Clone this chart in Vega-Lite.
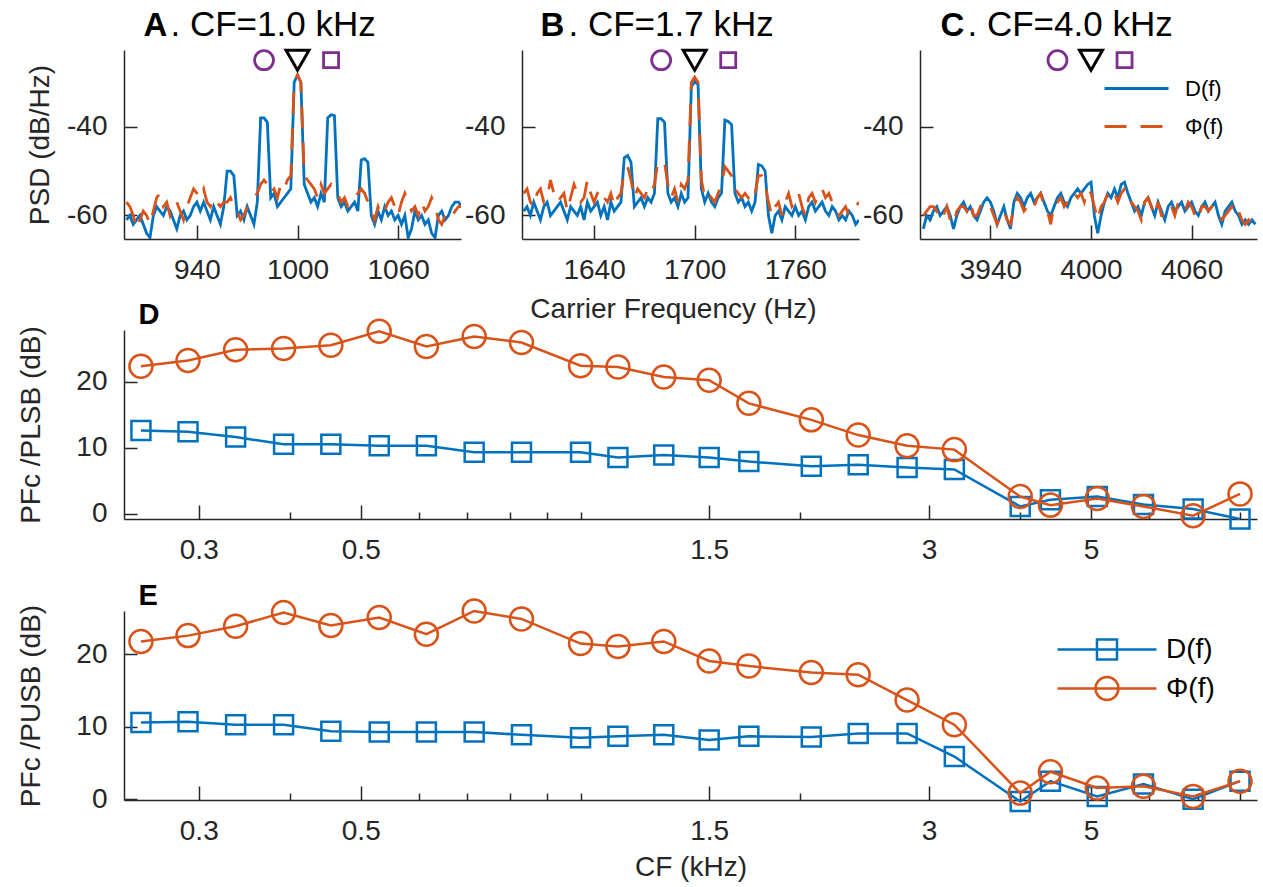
{
"$schema":"https://vega.github.io/schema/vega-lite/v6.json",
"padding":{"left":17,"top":7,"right":5,"bottom":5},
"background":"white",
"config":{"font":"Liberation Sans","view":{"stroke":null},
"axis":{"grid":false,"domainColor":"#262626","domainWidth":1.5,"tickColor":"#262626","tickWidth":1.5,"labelColor":"#262626","labelFontSize":28,"titleFontSize":28,"titleFontWeight":"normal","titleColor":"#262626","labelOverlap":false,"labelFlush":false,"labelFont":"Liberation Sans","titleFont":"Liberation Sans"},
"legend":{"padding":0,"labelFont":"Liberation Sans","labelColor":"#000000"}},
"datasets":{
"A":[{"f":898,"D":-61,"P":-57},{"f":900,"D":-60,"P":-58},{"f":902,"D":-62,"P":-60},{"f":904,"D":-61,"P":-63},{"f":906,"D":-60,"P":-61},{"f":908,"D":-62,"P":-59},{"f":910,"D":-64,"P":-60},{"f":912,"D":-65,"P":-62},{"f":914,"D":-60,"P":-59},{"f":916,"D":-58,"P":-56},{"f":918,"D":-59,"P":-55},{"f":920,"D":-60,"P":-58},{"f":922,"D":-58,"P":-57},{"f":924,"D":-59,"P":-60},{"f":926,"D":-61,"P":-58},{"f":928,"D":-63,"P":-57},{"f":930,"D":-60,"P":-59},{"f":932,"D":-59,"P":-61},{"f":934,"D":-61,"P":-58},{"f":936,"D":-60,"P":-56},{"f":938,"D":-58,"P":-54},{"f":940,"D":-57,"P":-55},{"f":942,"D":-59,"P":-56},{"f":944,"D":-57,"P":-54},{"f":946,"D":-59,"P":-57},{"f":948,"D":-61,"P":-58},{"f":950,"D":-58,"P":-56},{"f":952,"D":-60,"P":-57},{"f":954,"D":-62,"P":-58},{"f":956,"D":-58,"P":-57},{"f":958,"D":-50,"P":-57},{"f":960,"D":-50,"P":-56},{"f":962,"D":-51,"P":-58},{"f":964,"D":-60,"P":-59},{"f":966,"D":-59,"P":-61},{"f":968,"D":-61,"P":-60},{"f":970,"D":-58,"P":-58},{"f":972,"D":-60,"P":-57},{"f":974,"D":-62,"P":-56},{"f":976,"D":-57,"P":-55},{"f":978,"D":-38,"P":-53},{"f":980,"D":-38,"P":-52},{"f":982,"D":-39,"P":-53},{"f":984,"D":-56,"P":-55},{"f":986,"D":-55,"P":-54},{"f":988,"D":-58,"P":-56},{"f":990,"D":-57,"P":-53},{"f":992,"D":-56,"P":-54},{"f":994,"D":-55,"P":-52},{"f":996,"D":-54,"P":-51},{"f":998,"D":-30,"P":-30},{"f":1000,"D":-28.3,"P":-28.3},{"f":1002,"D":-30,"P":-30},{"f":1004,"D":-53,"P":-51},{"f":1006,"D":-55,"P":-52},{"f":1008,"D":-57,"P":-53},{"f":1010,"D":-56,"P":-54},{"f":1012,"D":-58,"P":-56},{"f":1014,"D":-55,"P":-53},{"f":1016,"D":-57,"P":-55},{"f":1018,"D":-38,"P":-54},{"f":1020,"D":-37.3,"P":-53},{"f":1022,"D":-37.5,"P":-54},{"f":1024,"D":-56,"P":-55},{"f":1026,"D":-58,"P":-57},{"f":1028,"D":-57,"P":-56},{"f":1030,"D":-59,"P":-58},{"f":1032,"D":-58,"P":-57},{"f":1034,"D":-57,"P":-56},{"f":1036,"D":-59,"P":-55},{"f":1038,"D":-47.5,"P":-54},{"f":1040,"D":-47.2,"P":-55},{"f":1042,"D":-48,"P":-57},{"f":1044,"D":-60,"P":-59},{"f":1046,"D":-62,"P":-61},{"f":1048,"D":-59,"P":-58},{"f":1050,"D":-61,"P":-60},{"f":1052,"D":-58,"P":-59},{"f":1054,"D":-60,"P":-57},{"f":1056,"D":-59,"P":-56},{"f":1058,"D":-61,"P":-58},{"f":1060,"D":-60,"P":-60},{"f":1062,"D":-62,"P":-57},{"f":1064,"D":-60,"P":-55},{"f":1066,"D":-65,"P":-57},{"f":1068,"D":-63,"P":-59},{"f":1070,"D":-59,"P":-58},{"f":1072,"D":-61,"P":-60},{"f":1074,"D":-60,"P":-57},{"f":1076,"D":-62,"P":-59},{"f":1078,"D":-61,"P":-58},{"f":1080,"D":-64,"P":-56},{"f":1082,"D":-65,"P":-58},{"f":1084,"D":-60,"P":-61},{"f":1086,"D":-59,"P":-62},{"f":1088,"D":-61,"P":-60},{"f":1090,"D":-60,"P":-59},{"f":1092,"D":-58,"P":-60},{"f":1094,"D":-57,"P":-59},{"f":1096,"D":-57,"P":-58},{"f":1098,"D":-58,"P":-58}],
"B":[{"f":1598,"D":-59,"P":-55},{"f":1600,"D":-58,"P":-54},{"f":1602,"D":-60,"P":-57},{"f":1604,"D":-57,"P":-58},{"f":1606,"D":-59,"P":-55},{"f":1608,"D":-61,"P":-54},{"f":1610,"D":-58,"P":-57},{"f":1612,"D":-57,"P":-56},{"f":1614,"D":-60,"P":-52},{"f":1616,"D":-59,"P":-55},{"f":1618,"D":-58,"P":-57},{"f":1620,"D":-57,"P":-56},{"f":1622,"D":-59,"P":-55},{"f":1624,"D":-61,"P":-59},{"f":1626,"D":-58,"P":-56},{"f":1628,"D":-59,"P":-53},{"f":1630,"D":-60,"P":-55},{"f":1632,"D":-58,"P":-57},{"f":1634,"D":-61,"P":-56},{"f":1636,"D":-57,"P":-52},{"f":1638,"D":-59,"P":-55},{"f":1640,"D":-58,"P":-57},{"f":1642,"D":-57,"P":-55},{"f":1644,"D":-60,"P":-54},{"f":1646,"D":-58,"P":-56},{"f":1648,"D":-61,"P":-57},{"f":1650,"D":-57,"P":-55},{"f":1652,"D":-59,"P":-58},{"f":1654,"D":-58,"P":-56},{"f":1656,"D":-57,"P":-55},{"f":1658,"D":-47,"P":-50},{"f":1660,"D":-46.5,"P":-49},{"f":1662,"D":-48,"P":-52},{"f":1664,"D":-58,"P":-56},{"f":1666,"D":-57,"P":-54},{"f":1668,"D":-56,"P":-55},{"f":1670,"D":-58,"P":-56},{"f":1672,"D":-56,"P":-54},{"f":1674,"D":-57,"P":-55},{"f":1676,"D":-55,"P":-53},{"f":1678,"D":-38.2,"P":-48},{"f":1680,"D":-38.2,"P":-48},{"f":1682,"D":-39,"P":-48},{"f":1684,"D":-55,"P":-53},{"f":1686,"D":-57,"P":-56},{"f":1688,"D":-56,"P":-54},{"f":1690,"D":-58,"P":-57},{"f":1692,"D":-55,"P":-53},{"f":1694,"D":-57,"P":-54},{"f":1696,"D":-56,"P":-52},{"f":1698,"D":-31,"P":-30},{"f":1700,"D":-29.8,"P":-28.8},{"f":1702,"D":-30.5,"P":-30},{"f":1704,"D":-54,"P":-52},{"f":1706,"D":-57,"P":-56},{"f":1708,"D":-55,"P":-55},{"f":1710,"D":-57,"P":-56},{"f":1712,"D":-58,"P":-57},{"f":1714,"D":-56,"P":-55},{"f":1716,"D":-55,"P":-53},{"f":1718,"D":-38.5,"P":-49},{"f":1720,"D":-38.8,"P":-50},{"f":1722,"D":-39.5,"P":-51},{"f":1724,"D":-55,"P":-54},{"f":1726,"D":-57,"P":-55},{"f":1728,"D":-56,"P":-56},{"f":1730,"D":-58,"P":-55},{"f":1732,"D":-57,"P":-56},{"f":1734,"D":-59,"P":-54},{"f":1736,"D":-57,"P":-55},{"f":1738,"D":-48.5,"P":-51},{"f":1740,"D":-48.8,"P":-51},{"f":1742,"D":-50,"P":-53},{"f":1744,"D":-60,"P":-57},{"f":1746,"D":-64,"P":-60},{"f":1748,"D":-60,"P":-58},{"f":1750,"D":-59,"P":-57},{"f":1752,"D":-61,"P":-60},{"f":1754,"D":-58,"P":-57},{"f":1756,"D":-59,"P":-55},{"f":1758,"D":-60,"P":-58},{"f":1760,"D":-58,"P":-57},{"f":1762,"D":-60,"P":-55},{"f":1764,"D":-59,"P":-58},{"f":1766,"D":-61,"P":-60},{"f":1768,"D":-58,"P":-56},{"f":1770,"D":-57,"P":-55},{"f":1772,"D":-59,"P":-57},{"f":1774,"D":-58,"P":-55},{"f":1776,"D":-57,"P":-54},{"f":1778,"D":-59,"P":-56},{"f":1780,"D":-60,"P":-55},{"f":1782,"D":-58,"P":-57},{"f":1784,"D":-59,"P":-58},{"f":1786,"D":-61,"P":-60},{"f":1788,"D":-60,"P":-59},{"f":1790,"D":-61,"P":-58},{"f":1792,"D":-59,"P":-60},{"f":1794,"D":-60,"P":-59},{"f":1796,"D":-62,"P":-58},{"f":1798,"D":-61,"P":-57}],
"C":[{"f":3900,"D":-63,"P":-60},{"f":3902,"D":-60,"P":-59},{"f":3904,"D":-61,"P":-58},{"f":3906,"D":-59,"P":-58},{"f":3908,"D":-58,"P":-59},{"f":3910,"D":-60,"P":-61},{"f":3912,"D":-59,"P":-60},{"f":3914,"D":-58,"P":-58},{"f":3916,"D":-60,"P":-61},{"f":3918,"D":-63,"P":-62},{"f":3920,"D":-60,"P":-59},{"f":3922,"D":-58,"P":-58},{"f":3924,"D":-57,"P":-58},{"f":3926,"D":-59,"P":-59},{"f":3928,"D":-58,"P":-57},{"f":3930,"D":-60,"P":-60},{"f":3932,"D":-61,"P":-60},{"f":3934,"D":-59,"P":-58},{"f":3936,"D":-57,"P":-57},{"f":3938,"D":-56,"P":-57},{"f":3940,"D":-57,"P":-58},{"f":3942,"D":-59,"P":-60},{"f":3944,"D":-62,"P":-62},{"f":3946,"D":-60,"P":-60},{"f":3948,"D":-58,"P":-59},{"f":3950,"D":-61,"P":-61},{"f":3952,"D":-63,"P":-62},{"f":3954,"D":-57,"P":-58},{"f":3956,"D":-55,"P":-56},{"f":3958,"D":-56,"P":-57},{"f":3960,"D":-58,"P":-59},{"f":3962,"D":-56,"P":-58},{"f":3964,"D":-55,"P":-57},{"f":3966,"D":-57,"P":-58},{"f":3968,"D":-56,"P":-56},{"f":3970,"D":-55,"P":-55},{"f":3972,"D":-57,"P":-58},{"f":3974,"D":-59,"P":-59},{"f":3976,"D":-60,"P":-62},{"f":3978,"D":-58,"P":-57},{"f":3980,"D":-56,"P":-57},{"f":3982,"D":-55,"P":-56},{"f":3984,"D":-57,"P":-58},{"f":3986,"D":-58,"P":-57},{"f":3988,"D":-56,"P":-55},{"f":3990,"D":-55,"P":-55},{"f":3992,"D":-54,"P":-56},{"f":3994,"D":-55,"P":-55},{"f":3996,"D":-54,"P":-57},{"f":3998,"D":-53,"P":-54},{"f":4000,"D":-52.5,"P":-55},{"f":4002,"D":-60,"P":-58},{"f":4004,"D":-64,"P":-61},{"f":4006,"D":-60,"P":-58},{"f":4008,"D":-57,"P":-57},{"f":4010,"D":-55,"P":-55},{"f":4012,"D":-56,"P":-56},{"f":4014,"D":-54,"P":-55},{"f":4016,"D":-56,"P":-57},{"f":4018,"D":-53,"P":-55},{"f":4020,"D":-52.5,"P":-54},{"f":4022,"D":-55,"P":-56},{"f":4024,"D":-57,"P":-57},{"f":4026,"D":-59,"P":-58},{"f":4028,"D":-58,"P":-59},{"f":4030,"D":-60,"P":-61},{"f":4032,"D":-57,"P":-57},{"f":4034,"D":-56,"P":-56},{"f":4036,"D":-58,"P":-58},{"f":4038,"D":-60,"P":-60},{"f":4040,"D":-57,"P":-57},{"f":4042,"D":-59,"P":-60},{"f":4044,"D":-61,"P":-60},{"f":4046,"D":-58,"P":-58},{"f":4048,"D":-57,"P":-58},{"f":4050,"D":-59,"P":-60},{"f":4052,"D":-58,"P":-57},{"f":4054,"D":-57,"P":-58},{"f":4056,"D":-59,"P":-59},{"f":4058,"D":-58,"P":-57},{"f":4060,"D":-57,"P":-58},{"f":4062,"D":-59,"P":-60},{"f":4064,"D":-60,"P":-61},{"f":4066,"D":-58,"P":-58},{"f":4068,"D":-57,"P":-58},{"f":4070,"D":-59,"P":-59},{"f":4072,"D":-58,"P":-58},{"f":4074,"D":-57,"P":-58},{"f":4076,"D":-60,"P":-60},{"f":4078,"D":-62,"P":-61},{"f":4080,"D":-59,"P":-60},{"f":4082,"D":-58,"P":-59},{"f":4084,"D":-57,"P":-58},{"f":4086,"D":-59,"P":-60},{"f":4088,"D":-60,"P":-59},{"f":4090,"D":-62,"P":-61},{"f":4092,"D":-61,"P":-62},{"f":4094,"D":-62,"P":-61},{"f":4096,"D":-61,"P":-62},{"f":4098,"D":-62,"P":-61}],
"LSB":[{"f":0.25,"D":12.6,"P":22.3},{"f":0.29,"D":12.4,"P":23.2},{"f":0.337,"D":11.6,"P":24.8},{"f":0.392,"D":10.5,"P":25.0},{"f":0.455,"D":10.5,"P":25.5},{"f":0.53,"D":10.3,"P":27.6},{"f":0.615,"D":10.3,"P":25.3},{"f":0.715,"D":9.3,"P":26.8},{"f":0.83,"D":9.3,"P":25.9},{"f":1.0,"D":9.3,"P":22.4},{"f":1.125,"D":8.5,"P":22.2},{"f":1.3,"D":8.9,"P":20.7},{"f":1.5,"D":8.5,"P":20.2},{"f":1.7,"D":7.9,"P":16.7},{"f":2.07,"D":7.2,"P":14.2},{"f":2.4,"D":7.4,"P":11.9},{"f":2.8,"D":7.0,"P":10.3},{"f":3.25,"D":6.7,"P":9.7},{"f":4.0,"D":1.1,"P":2.6},{"f":4.4,"D":2.1,"P":1.3},{"f":5.1,"D":2.6,"P":2.3},{"f":5.9,"D":1.4,"P":1.1},{"f":6.9,"D":0.7,"P":-0.3},{"f":8.0,"D":-0.8,"P":3.0}],
"USB":[{"f":0.25,"D":10.6,"P":21.8},{"f":0.29,"D":10.7,"P":22.6},{"f":0.337,"D":10.3,"P":23.9},{"f":0.392,"D":10.3,"P":25.8},{"f":0.455,"D":9.4,"P":24.0},{"f":0.53,"D":9.3,"P":25.1},{"f":0.615,"D":9.3,"P":22.8},{"f":0.715,"D":9.3,"P":26.0},{"f":0.83,"D":8.9,"P":24.9},{"f":1.0,"D":8.5,"P":21.5},{"f":1.125,"D":8.7,"P":21.1},{"f":1.3,"D":8.9,"P":21.8},{"f":1.5,"D":8.2,"P":19.1},{"f":1.7,"D":8.7,"P":18.4},{"f":2.07,"D":8.6,"P":17.5},{"f":2.4,"D":9.1,"P":17.2},{"f":2.8,"D":9.1,"P":13.7},{"f":3.25,"D":5.9,"P":10.3},{"f":4.0,"D":-0.3,"P":0.85},{"f":4.4,"D":2.5,"P":3.8},{"f":5.1,"D":0.4,"P":1.55},{"f":5.9,"D":2.1,"P":1.8},{"f":6.9,"D":0.0,"P":0.4},{"f":8.0,"D":2.5,"P":2.5}]
},
"spacing":280,
"bounds":"flush",
"resolve":{"scale":{"color":"independent","shape":"independent","strokeDash":"independent"},"legend":{"color":"independent","shape":"independent","strokeDash":"independent"}},
"vconcat":[
{"hconcat":[
{"width":337,"height":189,"data":{"name":"A"},
"resolve":{"axis":{"x":"independent"}},
"layer":[
{"mark":{"type":"line","color":"#0072BD","strokeWidth":2.8,"clip":true},
"encoding":{"x":{"field":"f","type":"quantitative","scale":{"domain":[896.5,1097.5],"nice":false,"zero":false},"axis":{"orient":"bottom","values":[940,1000,1060],"format":"d","tickSize":-14,"labelPadding":31,"title":null}},
"y":{"field":"D","type":"quantitative","scale":{"domain":[-65.3,-22.7],"nice":false,"zero":false},"axis":{"values":[-60,-40],"labelExpr":"datum.value + ''","tickSize":-13,"labelPadding":30,"title":"PSD (dB/Hz)","titlePadding":12}}}},
{"mark":{"type":"line","color":"#D95319","strokeWidth":2.8,"strokeDash":[22,14],"clip":true},
"encoding":{"x":{"field":"f","type":"quantitative","axis":{"orient":"top","domain":false,"ticks":false,"labels":false,"title":"A","titleX":19,"titleY":-15,"titleAlign":"left","titleBaseline":"alphabetic","titleAngle":0,"titleFontSize":33,"titleFontWeight":"bold","titleColor":"#000000"}},"y":{"field":"P","type":"quantitative"}}},
{"data":{"values":[{"f":980}]},"mark":{"type":"point","shape":"circle","color":"#7E2F8E","filled":false,"size":361,"strokeWidth":2.8,"opacity":1},
"encoding":{"x":{"field":"f","type":"quantitative","axis":{"orient":"top","domain":false,"ticks":false,"labels":false,"title":". CF=1.0 kHz","titleX":46,"titleY":-15,"titleAlign":"left","titleBaseline":"alphabetic","titleAngle":0,"titleFontSize":35,"titleColor":"#000000"}},"y":{"datum":-25}}},
{"data":{"values":[{"f":1000}]},"mark":{"type":"point","shape":"triangle-down","color":"#000000","filled":false,"size":529,"strokeWidth":3,"opacity":1},
"encoding":{"x":{"field":"f","type":"quantitative","axis":null},"y":{"datum":-25}}},
{"data":{"values":[{"f":1020}]},"mark":{"type":"point","shape":"square","color":"#7E2F8E","filled":false,"size":225,"strokeWidth":2.8,"opacity":1},
"encoding":{"x":{"field":"f","type":"quantitative","axis":null},"y":{"datum":-25}}}
]},
{"width":337,"height":189,"data":{"name":"B"},
"resolve":{"axis":{"x":"independent"}},
"layer":[
{"mark":{"type":"line","color":"#0072BD","strokeWidth":2.8,"clip":true},
"encoding":{"x":{"field":"f","type":"quantitative","scale":{"domain":[1597,1798],"nice":false,"zero":false},"axis":{"orient":"bottom","values":[1640,1700,1760],"format":"d","tickSize":-14,"labelPadding":31,"title":"Carrier Frequency (Hz)","titlePadding":11,"titleX":151}},
"y":{"field":"D","type":"quantitative","scale":{"domain":[-65.3,-22.7],"nice":false,"zero":false},"axis":{"values":[-60,-40],"labelExpr":"datum.value + ''","tickSize":-13,"labelPadding":30,"title":null}}}},
{"mark":{"type":"line","color":"#D95319","strokeWidth":2.8,"strokeDash":[22,14],"clip":true},
"encoding":{"x":{"field":"f","type":"quantitative","axis":{"orient":"top","domain":false,"ticks":false,"labels":false,"title":"B","titleX":18,"titleY":-15,"titleAlign":"left","titleBaseline":"alphabetic","titleAngle":0,"titleFontSize":33,"titleFontWeight":"bold","titleColor":"#000000"}},"y":{"field":"P","type":"quantitative"}}},
{"data":{"values":[{"f":1680}]},"mark":{"type":"point","shape":"circle","color":"#7E2F8E","filled":false,"size":361,"strokeWidth":2.8,"opacity":1},
"encoding":{"x":{"field":"f","type":"quantitative","axis":{"orient":"top","domain":false,"ticks":false,"labels":false,"title":". CF=1.7 kHz","titleX":46,"titleY":-15,"titleAlign":"left","titleBaseline":"alphabetic","titleAngle":0,"titleFontSize":35,"titleColor":"#000000"}},"y":{"datum":-25}}},
{"data":{"values":[{"f":1700}]},"mark":{"type":"point","shape":"triangle-down","color":"#000000","filled":false,"size":529,"strokeWidth":3,"opacity":1},
"encoding":{"x":{"field":"f","type":"quantitative","axis":null},"y":{"datum":-25}}},
{"data":{"values":[{"f":1720}]},"mark":{"type":"point","shape":"square","color":"#7E2F8E","filled":false,"size":225,"strokeWidth":2.8,"opacity":1},
"encoding":{"x":{"field":"f","type":"quantitative","axis":null},"y":{"datum":-25}}}
]},
{"width":337,"height":189,"data":{"name":"C"},
"resolve":{"axis":{"x":"independent"}},
"layer":[
{"mark":{"type":"line","color":"#0072BD","strokeWidth":2.8,"clip":true},
"encoding":{"x":{"field":"f","type":"quantitative","scale":{"domain":[3898,4099],"nice":false,"zero":false},"axis":{"orient":"bottom","values":[3940,4000,4060],"format":"d","tickSize":-14,"labelPadding":31,"title":null}},
"y":{"field":"D","type":"quantitative","scale":{"domain":[-65.3,-22.7],"nice":false,"zero":false},"axis":{"values":[-60,-40],"labelExpr":"datum.value + ''","tickSize":-13,"labelPadding":30,"title":null}}}},
{"mark":{"type":"line","color":"#D95319","strokeWidth":2.8,"strokeDash":[22,14],"clip":true},
"encoding":{"x":{"field":"f","type":"quantitative","axis":{"orient":"top","domain":false,"ticks":false,"labels":false,"title":"C","titleX":20,"titleY":-15,"titleAlign":"left","titleBaseline":"alphabetic","titleAngle":0,"titleFontSize":33,"titleFontWeight":"bold","titleColor":"#000000"}},"y":{"field":"P","type":"quantitative"}}},
{"data":{"values":[{"f":3980}]},"mark":{"type":"point","shape":"circle","color":"#7E2F8E","filled":false,"size":361,"strokeWidth":2.8,"opacity":1},
"encoding":{"x":{"field":"f","type":"quantitative","axis":{"orient":"top","domain":false,"ticks":false,"labels":false,"title":". CF=4.0 kHz","titleX":47,"titleY":-15,"titleAlign":"left","titleBaseline":"alphabetic","titleAngle":0,"titleFontSize":35,"titleColor":"#000000"}},"y":{"datum":-25}}},
{"data":{"values":[{"f":4000}]},"mark":{"type":"point","shape":"triangle-down","color":"#000000","filled":false,"size":529,"strokeWidth":3,"opacity":1},
"encoding":{"x":{"field":"f","type":"quantitative","axis":null},"y":{"datum":-25}}},
{"data":{"values":[{"f":4020}]},"mark":{"type":"point","shape":"square","color":"#7E2F8E","filled":false,"size":225,"strokeWidth":2.8,"opacity":1},
"encoding":{"x":{"field":"f","type":"quantitative","axis":null},"y":{"datum":-25}}},
{"transform":[{"filter":"false"}],
"mark":{"type":"point","filled":false,"strokeWidth":2.8,"opacity":1},
"encoding":{"x":{"field":"f","type":"quantitative","axis":null},"y":{"field":"D","type":"quantitative"},
"color":{"field":"s","type":"nominal","scale":{"domain":["D","P"],"range":["#0072BD","#D95319"]},"legend":{"orient":"none","legendX":183,"legendY":26,"title":null,"labelExpr":"datum.label == 'D' ? 'D(f)' : 'Φ(f)'","labelFontSize":22,"symbolType":"M-1,0H4.82","symbolSize":484,"symbolStrokeWidth":2.8,"labelOffset":57,"rowPadding":14}},
"strokeDash":{"field":"s","type":"nominal","scale":{"domain":["D","P"],"range":[[1,0],[22,14]]},"legend":{"orient":"none","legendX":183,"legendY":26,"title":null,"labelExpr":"datum.label == 'D' ? 'D(f)' : 'Φ(f)'","labelFontSize":22,"symbolType":"M-1,0H4.82","symbolSize":484,"symbolStrokeWidth":2.8,"labelOffset":57,"rowPadding":14}}}}
]}
],"spacing":61,"bounds":"flush",
"resolve":{"scale":{"color":"independent","shape":"independent","strokeDash":"independent"},"legend":{"color":"independent","shape":"independent","strokeDash":"independent"}}},
{"vconcat":[
{"width":1133,"height":189,"data":{"name":"LSB"},
"resolve":{"axis":{"x":"independent"}},
"layer":[
{"mark":{"type":"line","color":"#0072BD","strokeWidth":2.5},
"encoding":{"x":{"field":"f","type":"quantitative","scale":{"type":"log","domain":[0.237,8.44],"nice":false},"axis":{"orient":"bottom","values":[0.3,0.5,1.5,3,5],"labelExpr":"datum.value + ''","tickSize":-14,"labelPadding":31,"title":null}},
"y":{"field":"D","type":"quantitative","scale":{"domain":[-0.8,27.8],"nice":false,"zero":false},"axis":{"values":[0,10,20],"tickSize":-13,"labelPadding":30,"title":"PFc /PLSB (dB)","titlePadding":30}}}},
{"mark":{"type":"point","shape":"square","color":"#0072BD","filled":false,"size":361,"strokeWidth":2.5,"opacity":1},
"encoding":{"x":{"field":"f","type":"quantitative","axis":{"orient":"bottom","values":[0.4,0.6,0.7,0.8,0.9,1,2,4,6,7,8],"labels":false,"domain":false,"tickSize":-7,"title":null}},"y":{"field":"D","type":"quantitative"}}},
{"mark":{"type":"line","color":"#D95319","strokeWidth":2.5},
"encoding":{"x":{"field":"f","type":"quantitative","axis":{"orient":"top","domain":false,"ticks":false,"labels":false,"title":"D","titleX":14,"titleY":-7,"titleAlign":"left","titleBaseline":"alphabetic","titleAngle":0,"titleFontSize":29,"titleFontWeight":"bold","titleColor":"#000000"}},"y":{"field":"P","type":"quantitative"}}},
{"mark":{"type":"point","shape":"circle","color":"#D95319","filled":false,"size":529,"strokeWidth":2.5,"opacity":1},
"encoding":{"x":{"field":"f","type":"quantitative","axis":null},"y":{"field":"P","type":"quantitative"}}}
]},
{"width":1133,"height":189,"data":{"name":"USB"},
"resolve":{"axis":{"x":"independent"}},
"layer":[
{"mark":{"type":"line","color":"#0072BD","strokeWidth":2.5},
"encoding":{"x":{"field":"f","type":"quantitative","scale":{"type":"log","domain":[0.237,8.44],"nice":false},"axis":{"orient":"bottom","values":[0.3,0.5,1.5,3,5],"labelExpr":"datum.value + ''","tickSize":-14,"labelPadding":31,"title":"CF (kHz)","titlePadding":8}},
"y":{"field":"D","type":"quantitative","scale":{"domain":[-0.1,26.0],"nice":false,"zero":false},"axis":{"values":[0,10,20],"tickSize":-13,"labelPadding":30,"title":"PFc /PUSB (dB)","titlePadding":30}}}},
{"mark":{"type":"point","shape":"square","color":"#0072BD","filled":false,"size":361,"strokeWidth":2.5,"opacity":1},
"encoding":{"x":{"field":"f","type":"quantitative","axis":{"orient":"bottom","values":[0.4,0.6,0.7,0.8,0.9,1,2,4,6,7,8],"labels":false,"domain":false,"tickSize":-7,"title":null}},"y":{"field":"D","type":"quantitative"}}},
{"mark":{"type":"line","color":"#D95319","strokeWidth":2.5},
"encoding":{"x":{"field":"f","type":"quantitative","axis":{"orient":"top","domain":false,"ticks":false,"labels":false,"title":"E","titleX":14,"titleY":-7,"titleAlign":"left","titleBaseline":"alphabetic","titleAngle":0,"titleFontSize":29,"titleFontWeight":"bold","titleColor":"#000000"}},"y":{"field":"P","type":"quantitative"}}},
{"mark":{"type":"point","shape":"circle","color":"#D95319","filled":false,"size":529,"strokeWidth":2.5,"opacity":1},
"encoding":{"x":{"field":"f","type":"quantitative","axis":null},"y":{"field":"P","type":"quantitative"}}},
{"transform":[{"filter":"false"}],
"mark":{"type":"point","filled":false,"strokeWidth":2.5,"opacity":1},
"encoding":{"x":{"field":"f","type":"quantitative","axis":null},"y":{"field":"D","type":"quantitative"},
"color":{"field":"s","type":"nominal","scale":{"domain":["D","P"],"range":["#0072BD","#D95319"]},"legend":{"orient":"none","legendX":932,"legendY":23,"title":null,"labelExpr":"datum.label == 'D' ? 'D(f)' : 'Φ(f)'","labelFontSize":28,"symbolSize":784,"symbolStrokeWidth":2.5,"labelOffset":79,"rowPadding":7}},
"shape":{"field":"s","type":"nominal","scale":{"domain":["D","P"],"range":["M-1,0H6.07M1.82,-0.71H3.25V0.71H1.82Z","M-1,0H6.07M1.715,0A0.82,0.82,0,1,0,3.355,0A0.82,0.82,0,1,0,1.715,0Z"]},"legend":{"orient":"none","legendX":932,"legendY":23,"title":null,"labelExpr":"datum.label == 'D' ? 'D(f)' : 'Φ(f)'","labelFontSize":28,"symbolSize":784,"symbolStrokeWidth":2.5,"labelOffset":79,"rowPadding":7}}}}
]}
],"spacing":92,"bounds":"flush",
"resolve":{"scale":{"color":"independent","shape":"independent","strokeDash":"independent"},"legend":{"color":"independent","shape":"independent","strokeDash":"independent"}}}
]
}
